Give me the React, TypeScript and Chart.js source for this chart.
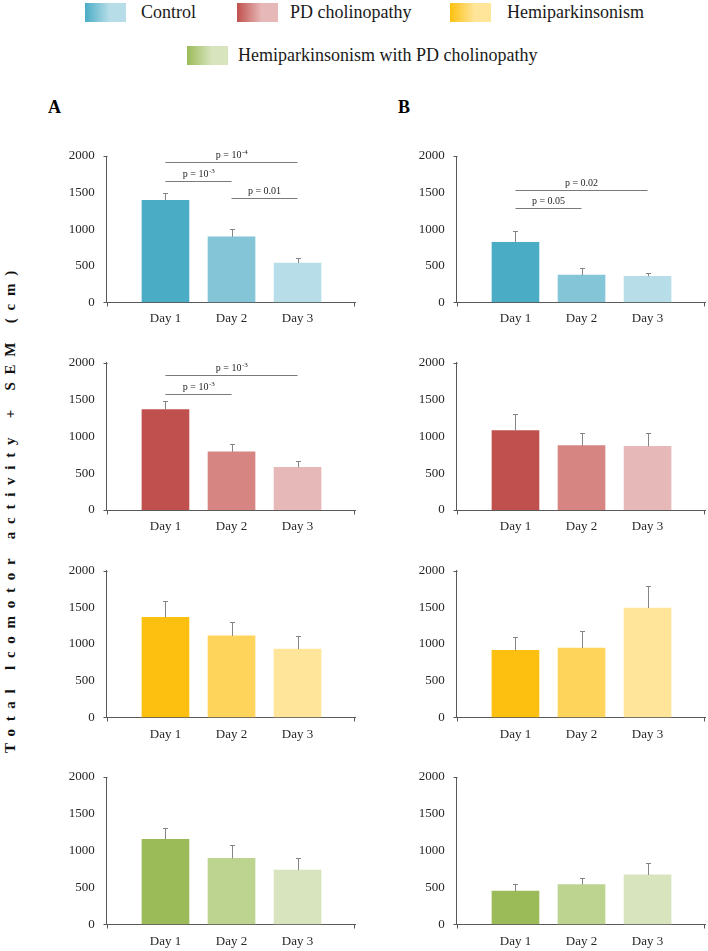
import React, { useEffect, useRef } from 'react';
import { Chart, registerables } from 'chart.js';

Chart.register(...registerables);

// ---- data -------------------------------------------------------------
const DAYS = ['Day 1', 'Day 2', 'Day 3'];
const Y_MAX = 2000;
const Y_STEP = 500;

const CONTROL_A = [1395, 895, 535];
const CONTROL_A_SEM = [95, 110, 75];
const CONTROL_B = [820, 370, 355];
const CONTROL_B_SEM = [150, 95, 48];

const PD_A = [1365, 790, 580];
const PD_A_SEM = [115, 100, 80];
const PD_B = [1080, 875, 865];
const PD_B_SEM = [225, 175, 185];

const HEMI_A = [1365, 1110, 930];
const HEMI_A_SEM = [220, 185, 180];
const HEMI_B = [915, 945, 1490];
const HEMI_B_SEM = [185, 230, 305];

const COMBO_A = [1155, 895, 735];
const COMBO_A_SEM = [150, 180, 160];
const COMBO_B = [450, 540, 670];
const COMBO_B_SEM = [100, 95, 160];

type Bracket = { from: number; to: number; at: number; text: string; exp?: string };

const CONTROL_A_P: Bracket[] = [
  { from: 1, to: 3, at: 1914, text: 'p = 10', exp: '-4' },
  { from: 1, to: 2, at: 1658, text: 'p = 10', exp: '-3' },
  { from: 2, to: 3, at: 1429, text: 'p = 0.01' },
];
const CONTROL_B_P: Bracket[] = [
  { from: 1, to: 3, at: 1538, text: 'p = 0.02' },
  { from: 1, to: 2, at: 1283, text: 'p = 0.05' },
];
const PD_A_P: Bracket[] = [
  { from: 1, to: 3, at: 1832, text: 'p = 10', exp: '-3' },
  { from: 1, to: 2, at: 1580, text: 'p = 10', exp: '-3' },
];

// ---- colours ----------------------------------------------------------
const CONTROL_COLORS = ['#4BACC6', '#84C5D8', '#B7DEE8'];
const PD_COLORS = ['#C0504D', '#D78583', '#E6B9B8'];
const HEMI_COLORS = ['#FDC010', '#FFD45B', '#FFE599'];
const COMBO_COLORS = ['#9BBB59', '#BCD490', '#D7E4BD'];

const LEGEND = [
  { label: 'Control', colors: CONTROL_COLORS },
  { label: 'PD cholinopathy', colors: PD_COLORS },
  { label: 'Hemiparkinsonism', colors: HEMI_COLORS },
  { label: 'Hemiparkinsonism with PD cholinopathy', colors: COMBO_COLORS },
];

// ---- layout -----------------------------------------------------------
const SERIF = '"Liberation Serif", "Times New Roman", serif';
const AXIS_COLOR = '#595959';
const COL_LEFT = [40, 390];
const CANVAS_W = 318;
const CANVAS_H = 210;
const Y_AXIS_W = 66.7;
const PAD_RIGHT = 3;
const ROW_PLOT_TOP = [156, 362.8, 570.7, 777];
const ROW_PLOT_BOTTOM = [302.2, 510, 717.3, 924.3];

type PanelDef = {
  col: number;
  row: number;
  values: number[];
  sem: number[];
  colors: string[];
  brackets: Bracket[];
};

const PANELS: PanelDef[] = [
  { col: 0, row: 0, values: CONTROL_A, sem: CONTROL_A_SEM, colors: CONTROL_COLORS, brackets: CONTROL_A_P },
  { col: 1, row: 0, values: CONTROL_B, sem: CONTROL_B_SEM, colors: CONTROL_COLORS, brackets: CONTROL_B_P },
  { col: 0, row: 1, values: PD_A, sem: PD_A_SEM, colors: PD_COLORS, brackets: PD_A_P },
  { col: 1, row: 1, values: PD_B, sem: PD_B_SEM, colors: PD_COLORS, brackets: [] },
  { col: 0, row: 2, values: HEMI_A, sem: HEMI_A_SEM, colors: HEMI_COLORS, brackets: [] },
  { col: 1, row: 2, values: HEMI_B, sem: HEMI_B_SEM, colors: HEMI_COLORS, brackets: [] },
  { col: 0, row: 3, values: COMBO_A, sem: COMBO_A_SEM, colors: COMBO_COLORS, brackets: [] },
  { col: 1, row: 3, values: COMBO_B, sem: COMBO_B_SEM, colors: COMBO_COLORS, brackets: [] },
];

function makeOverlay(panel: PanelDef) {
  return {
    id: 'semAndBrackets',
    afterDatasetsDraw(chart: any) {
      const ctx = chart.ctx as CanvasRenderingContext2D;
      const xs = chart.scales.x;
      const ys = chart.scales.y;
      const meta = chart.getDatasetMeta(0);
      ctx.save();
      // SEM whiskers (upper only)
      ctx.strokeStyle = '#858585';
      ctx.lineWidth = 1;
      meta.data.forEach((bar: any, i: number) => {
        const x = Math.round(bar.x) + 0.5;
        const top = Math.round(ys.getPixelForValue(panel.values[i] + panel.sem[i])) + 0.5;
        ctx.beginPath();
        ctx.moveTo(x, bar.y);
        ctx.lineTo(x, top);
        ctx.moveTo(x - 2.5, top);
        ctx.lineTo(x + 2.5, top);
        ctx.stroke();
      });
      // significance brackets
      panel.brackets.forEach((b) => {
        const x1 = xs.getPixelForValue(b.from);
        const x2 = xs.getPixelForValue(b.to);
        const y = Math.round(ys.getPixelForValue(b.at)) + 0.5;
        ctx.strokeStyle = '#7a7a7a';
        ctx.beginPath();
        ctx.moveTo(x1, y);
        ctx.lineTo(x2, y);
        ctx.stroke();
        ctx.fillStyle = '#262626';
        ctx.textBaseline = 'alphabetic';
        ctx.textAlign = 'left';
        ctx.font = `10px ${SERIF}`;
        const mainW = ctx.measureText(b.text).width;
        let expW = 0;
        if (b.exp) {
          ctx.font = `7px ${SERIF}`;
          expW = ctx.measureText(b.exp).width;
        }
        const start = (x1 + x2) / 2 - (mainW + expW) / 2;
        const base = y - 5;
        ctx.font = `10px ${SERIF}`;
        ctx.fillText(b.text, start, base);
        if (b.exp) {
          ctx.font = `7px ${SERIF}`;
          ctx.fillText(b.exp, start + mainW + 0.5, base - 4);
        }
      });
      ctx.restore();
    },
    afterDraw(chart: any) {
      // small end ticks where the two axes meet and terminate
      const ctx = chart.ctx as CanvasRenderingContext2D;
      const { left, right, top, bottom } = chart.chartArea;
      const l = Math.round(left) + 0.5;
      const b = Math.round(bottom) + 0.5;
      const t = Math.round(top) + 0.5;
      const r = Math.round(right) - 0.5;
      ctx.save();
      ctx.strokeStyle = AXIS_COLOR;
      ctx.lineWidth = 1;
      ctx.beginPath();
      ctx.moveTo(l - 4, t);
      ctx.lineTo(l, t);
      ctx.moveTo(l - 4, b);
      ctx.lineTo(l, b);
      ctx.moveTo(l, b);
      ctx.lineTo(l, b + 4);
      ctx.moveTo(r, b);
      ctx.lineTo(r, b + 4);
      ctx.stroke();
      ctx.restore();
    },
  };
}

function Panel({ panel }: { panel: PanelDef }) {
  const ref = useRef<HTMLCanvasElement>(null);
  const left = COL_LEFT[panel.col];
  const plotTop = ROW_PLOT_TOP[panel.row];
  const plotBottom = ROW_PLOT_BOTTOM[panel.row];
  const top = Math.round(plotTop) - 30;

  useEffect(() => {
    if (!ref.current) return;
    const xAxisH = top + CANVAS_H - plotBottom;
    const chart = new Chart(ref.current, {
      type: 'bar',
      data: {
        datasets: [
          {
            data: panel.values.map((v, i) => ({ x: i + 1, y: v })),
            backgroundColor: panel.colors,
            borderWidth: 0,
            barThickness: 47,
          },
        ],
      },
      options: {
        responsive: false,
        animation: false,
        events: [],
        layout: { padding: { top: plotTop - top, right: PAD_RIGHT, left: 0, bottom: 0 } },
        plugins: { legend: { display: false }, tooltip: { enabled: false } },
        scales: {
          x: {
            type: 'linear',
            offset: false,
            min: 0.11,
            max: 3.87,
            grid: { display: false, drawTicks: false, offset: false },
            border: { display: true, color: AXIS_COLOR, width: 1 },
            afterBuildTicks: (scale: any) => {
              scale.ticks = DAYS.map((_, i) => ({ value: i + 1 }));
            },
            afterFit: (scale: any) => {
              scale.height = xAxisH;
            },
            ticks: {
              padding: 9,
              autoSkip: false,
              maxRotation: 0,
              color: '#262626',
              font: { family: SERIF, size: 13 },
              callback: (v: any) => DAYS[Number(v) - 1] ?? '',
            },
          },
          y: {
            type: 'linear',
            min: 0,
            max: Y_MAX,
            grid: { display: false, drawTicks: false },
            border: { display: true, color: AXIS_COLOR, width: 1 },
            afterFit: (scale: any) => {
              scale.width = Y_AXIS_W;
            },
            ticks: {
              stepSize: Y_STEP,
              padding: 12,
              color: '#262626',
              font: { family: SERIF, size: 13 },
              callback: (v: any) => String(v),
            },
          },
        },
      },
      plugins: [makeOverlay(panel)],
    } as any);
    return () => chart.destroy();
  }, []);

  return (
    <canvas
      ref={ref}
      width={CANVAS_W}
      height={CANVAS_H}
      style={{ position: 'absolute', left, top, width: CANVAS_W, height: CANVAS_H, display: 'block' }}
    />
  );
}

function LegendItem({ item, boxLeft, textLeft, top }: { item: (typeof LEGEND)[number]; boxLeft: number; textLeft: number; top: number }) {
  return (
    <>
      <div
        style={{
          position: 'absolute',
          left: boxLeft,
          top,
          width: 41,
          height: 19,
          background: `linear-gradient(to right, ${item.colors[0]}, ${item.colors[2]} 60%, ${item.colors[2]})`,
        }}
      />
      <div
        style={{
          position: 'absolute',
          left: textLeft,
          top: top - 1,
          height: 21,
          lineHeight: '21px',
          fontFamily: SERIF,
          fontSize: 18,
          color: '#1a1a1a',
          whiteSpace: 'nowrap',
        }}
      >
        {item.label}
      </div>
    </>
  );
}

export default function App() {
  return (
    <div style={{ position: 'absolute', left: 0, top: 0, width: 708, height: 951, overflow: 'hidden', background: '#fff' }}>
      <LegendItem item={LEGEND[0]} boxLeft={85} textLeft={141} top={3} />
      <LegendItem item={LEGEND[1]} boxLeft={237} textLeft={290} top={3} />
      <LegendItem item={LEGEND[2]} boxLeft={450} textLeft={507} top={3} />
      <LegendItem item={LEGEND[3]} boxLeft={187} textLeft={238} top={46} />

      <div style={{ position: 'absolute', left: 48, top: 96, fontFamily: SERIF, fontWeight: 'bold', fontSize: 18, lineHeight: '22px' }}>A</div>
      <div style={{ position: 'absolute', left: 398, top: 96, fontFamily: SERIF, fontWeight: 'bold', fontSize: 18, lineHeight: '22px' }}>B</div>

      <div
        style={{
          position: 'absolute',
          left: 1,
          top: 753,
          transformOrigin: '0 0',
          transform: 'rotate(-90deg)',
          fontFamily: SERIF,
          fontWeight: 'bold',
          fontSize: 15,
          letterSpacing: '7.75px',
          whiteSpace: 'nowrap',
          color: '#111',
          lineHeight: '18px',
        }}
      >
        Total lcomotor activity + SEM (cm)
      </div>

      {PANELS.map((p, i) => (
        <Panel key={i} panel={p} />
      ))}
    </div>
  );
}
